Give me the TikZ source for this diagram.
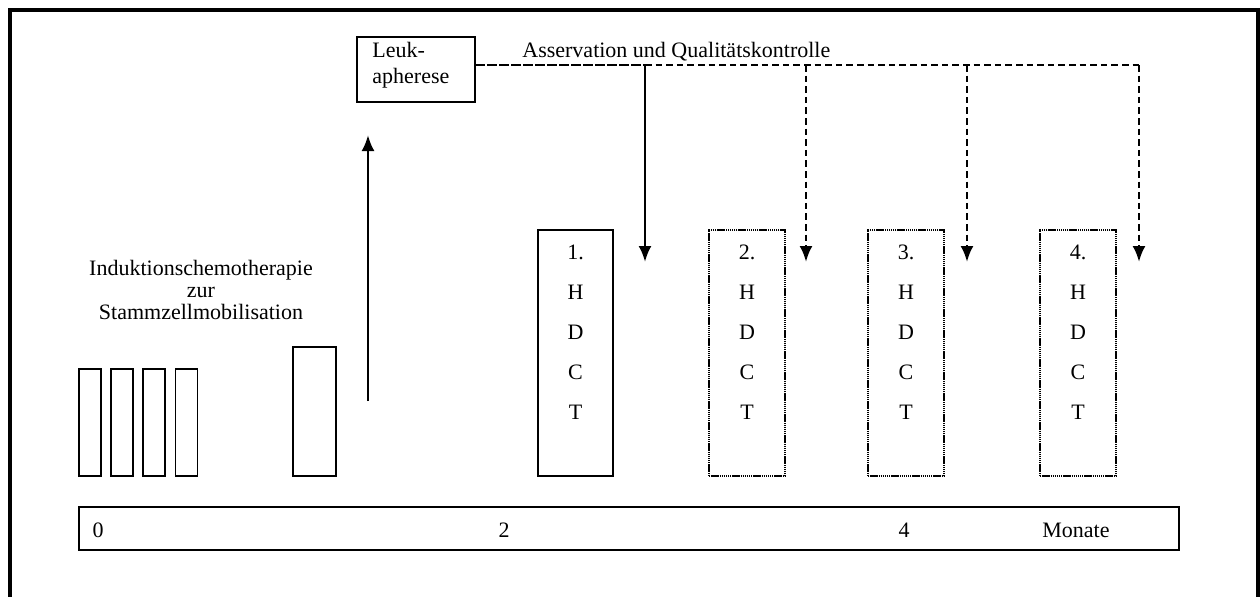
\documentclass[tikz,border=0pt]{standalone}
\usepackage{fontspec}
\setmainfont{Liberation Serif}
\usetikzlibrary{arrows.meta}
\begin{document}
\begin{tikzpicture}[x=0.5pt,y=-0.5pt,
  txt/.style={font=\fontsize{11}{13}\selectfont, inner sep=0pt},
  rect/.style 2 args={minimum width={#1*0.5pt}, minimum height={#2*0.5pt}},
  thinbox/.style={draw, line width=0.65pt, inner sep=0pt},
  dotbox/.style={draw, line width=1.2pt, dash pattern=on 0.7pt off 0.35pt, inner sep=0pt},
  frameline/.style={line width=1.6pt, line join=miter},
  tip/.style={-{Latex[length=8pt,width=6.5pt]}},
  solidarrow/.style={line width=1.3pt, tip},
  densedash/.style={line width=1.3pt, dash pattern=on 5pt off 1pt},
  dashline/.style={line width=1.3pt, dash pattern=on 3.3pt off 2pt},
  dasharrow/.style={dashline, tip},
]
\useasboundingbox (0,0) rectangle (1260,596);
% frame
\draw[frameline] (10,620) -- (10,10) -- (1258,10) -- (1258,620);

% induction blocks
\node[thinbox, rect={22}{107}] (c1) at (90,422.5) {};
\node[thinbox, rect={22}{107}] (c2) at (122,422.5) {};
\node[thinbox, rect={22}{107}] (c3) at (154,422.5) {};
\node[thinbox, rect={22}{107}] (c4) at (186.5,422.5) {};
\node[thinbox, rect={43}{129}] (c5) at (314.5,411.5) {};

\node[txt, anchor=base] (ind1) at (201,275) {Induktionschemotherapie};
\node[txt, anchor=base] (ind2) at (201,297) {zur};
\node[txt, anchor=base] (ind3) at (201,319) {Stammzellmobilisation};

% leukapherese
\node[thinbox, rect={118}{65}] (leuk) at (416,69.5) {};
\node[txt, anchor=base west] (leuk1) at (372,57) {Leuk-};
\node[txt, anchor=base west] (leuk2) at (372,83) {apherese};
\node[txt, anchor=base west] (ass) at (522,57) {Asservation und Qualitätskontrolle};

% up arrow
\coordinate (upstart) at (368,401);
\coordinate (uptip) at (368,135);
\draw[solidarrow] (upstart) -- (uptip);

% HDCT boxes
\node[thinbox, rect={75}{246}] (h1) at (575.5,353) {};
\node[dotbox, rect={76}{246}] (h2) at (747,353) {};
\node[dotbox, rect={76}{246}] (h3) at (906,353) {};
\node[dotbox, rect={76}{246}] (h4) at (1078,353) {};
\foreach \b/\n in {h1/1, h2/2, h3/3, h4/4}{
  \foreach \t [count=\i from 0] in {\n.,H,D,C,T}{
    \node[txt] (\b-\i) at ([yshift={(101-40*\i)*0.5pt}]\b.center) {\t};
  }
}

% distribution lines
\coordinate (j0) at (475,65);
\coordinate (j1) at (645,65);
\coordinate (j2) at (806,65);
\coordinate (j3) at (967,65);
\coordinate (j4) at (1139,65);
\coordinate (t1) at (645,262);
\coordinate (t2) at (806,262);
\coordinate (t3) at (967,262);
\coordinate (t4) at (1139,262);
\draw[densedash] (j0) -- (j1);
\draw[dashline] (j1) -- (j4);
\draw[solidarrow] (j1) -- (t1);
\draw[dasharrow] (j2) -- (t2);
\draw[dasharrow] (j3) -- (t3);
\draw[dasharrow] (j4) -- (t4);

% timeline
\node[thinbox, rect={1100}{43}] (tl) at (629,528.5) {};
\node[txt] (m0) at (98,530) {0};
\node[txt] (m2) at (504,530) {2};
\node[txt] (m4) at (904,530) {4};
\node[txt] (mon) at (1076,530) {Monate};
\end{tikzpicture}
\end{document}
